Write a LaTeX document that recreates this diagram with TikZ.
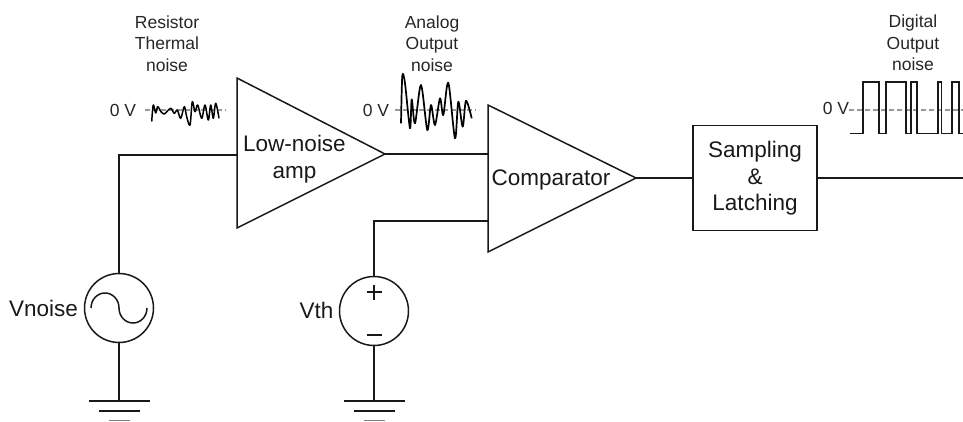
\documentclass[tikz,border=0pt]{standalone}
\usepackage{fontspec}
\setmainfont{Liberation Sans}
\tikzset{
  wire/.style={line width=1.6pt,black!90,line join=miter},
  shapeline/.style={line width=1.5pt,black!90,line join=miter},
  smalltext/.style={font=\fontsize{17.5}{21.5}\selectfont,align=center,inner sep=0pt,text=black!85},
  bigtext/.style={font=\fontsize{22.5}{26.5}\selectfont,align=center,inner sep=0pt,text=black!90},
  zeroline/.style={line width=1.2pt,black!40,dash pattern=on 5pt off 3pt},
  noisewave/.style={line width=1.7pt,black,line join=round},
  source/.style={circle,draw,line width=1.5pt,black!90,minimum size=69pt,inner sep=0pt},
  blockbox/.style={rectangle,draw,line width=1.5pt,black!90,minimum width=124pt,minimum height=105pt,inner sep=0pt},
}
\begin{document}
\begin{tikzpicture}[x=1pt,y=-1pt]
\useasboundingbox (0,0) rectangle (963,421);
% zero reference lines
\coordinate (zaL) at (145,110); \coordinate (zaR) at (226,110);
\coordinate (zbL) at (395,110); \coordinate (zbR) at (476,110);
\coordinate (zcL) at (849,110); \coordinate (zcR) at (963,110);
\draw[zeroline] (zaL) -- (zaR);
\draw[zeroline] (zbL) -- (zbR);
\draw[zeroline] (zcL) -- (zcR);
% noise traces
\draw[noisewave,line width=1.5pt] plot[smooth,tension=0.55] coordinates {
(151.7,121.5)(153.3,105)(155.7,113)(157.7,106.7)(161,111.7)(164.3,114)(167.7,110.7)(171,108.3)(174.3,113.3)(177.3,110)(180.7,118.3)(184.3,106.7)(186.7,116.7)(190,125)(192.3,101.7)(195,111.7)(197.7,105)(201.7,118.3)(205,105)(208.3,120)(210.7,105)(213.3,118.3)(215.7,103.3)(219,118.3)};
\draw[noisewave] plot[smooth,tension=0.5] coordinates {
(401,123.3)(402.3,76)(405,83.3)(410,128.3)(411.7,99.3)(415,123.3)(421,85)(427.3,130)(431,105)(435,125)(440,98.3)(443.3,115)(448.3,82.7)(455,138.3)(458.3,101.7)(462.7,126.7)(466,100.7)(471.7,118.3)};
% digital trace
\coordinate (d0) at (850,133.5);
\draw[wire] (d0) -- (863,133.5) -- (863,81.7) -- (879,81.7) -- (879,133.5) -- (886,133.5) -- (886,81.7) -- (906,81.7) -- (906,133.5) -- (911,133.5) -- (911,81.7) -- (917,81.7) -- (917,133.5) -- (938,133.5) -- (938,81.7) -- (941.5,81.7) -- (941.5,133.5) -- (952,133.5) -- (952,81.7) -- (959,81.7) -- (959,133.5) -- (963,133.5);
% labels above traces
\node[smalltext] (lblres) at (167,43.5) {Resistor\\Thermal\\noise};
\node[smalltext] (lblana) at (432,43.5) {Analog\\Output\\noise};
\node[smalltext] (lbldig) at (913,43) {Digital\\Output\\noise};
\node[smalltext] (z1) at (123,110) {0 V};
\node[smalltext] (z2) at (376,110) {0 V};
\node[smalltext] (z3) at (836,108.5) {0 V};
% amplifier
\coordinate (ampT) at (237,78); \coordinate (ampB) at (237,228); \coordinate (ampO) at (385,154);
\coordinate (ampI) at (237,155);
\draw[shapeline] (ampT) -- (ampO) -- (ampB) -- cycle;
\node[bigtext] (amplabel) at (294.5,159) {Low-noise\\amp};
% comparator
\coordinate (cmpT) at (488,105); \coordinate (cmpB) at (488,252); \coordinate (cmpO) at (636,178);
\coordinate (cmpP) at (488,154); \coordinate (cmpN) at (488,221);
\draw[shapeline] (cmpT) -- (cmpO) -- (cmpB) -- cycle;
\node[bigtext] (cmplabel) at (551,180) {Comparator};
% sampling block
\node[blockbox] (latch) at (755,178) {};
\node[bigtext] (latchlabel) at (755,178.5) {Sampling\\\&\\Latching};
\coordinate (outEnd) at (963,178);
% sources
\node[source] (vn) at (119,308) {};
\node[bigtext,anchor=east] (vnlabel) at (78,308.5) {Vnoise};
\draw[line width=1.5pt,black!90] (vn.center) ++(-28,0) arc[start angle=180,end angle=0,x radius=14pt,y radius=15pt] arc[start angle=180,end angle=360,x radius=14pt,y radius=15pt];
\node[source] (vt) at (374,311) {};
\node[bigtext,anchor=east] (vtlabel) at (333.5,310) {Vth};
\coordinate (plus) at (374,292); \coordinate (minus) at (374,335);
\draw[line width=1.5pt,black!90] ([xshift=-7.5pt]plus) -- ([xshift=7.5pt]plus) ([yshift=-7.5pt]plus) -- ([yshift=7.5pt]plus);
\draw[line width=1.5pt,black!90] ([xshift=-7.5pt]minus) -- ([xshift=7.5pt]minus);
% grounds
\coordinate (g1) at (119,401); \coordinate (g2) at (374,401);
\foreach \g in {g1,g2}{
  \draw[wire] ([xshift=-30.5pt]\g) -- ([xshift=30.5pt]\g);
  \draw[wire] ([xshift=-20.5pt,yshift=-10pt]\g) -- ([xshift=20.5pt,yshift=-10pt]\g);
  \draw[line width=1pt,black!50] ([xshift=-10.5pt,yshift=-19.5pt]\g) -- ([xshift=10.5pt,yshift=-19.5pt]\g);
}
% connectors
\draw[wire] (vn.north) |- (ampI);
\draw[wire] (vn.south) -- (g1);
\draw[wire] (ampO) -- (cmpP);
\draw[wire] (vt.north) |- (cmpN);
\draw[wire] (vt.south) -- (g2);
\draw[wire] (cmpO) -- (latch.west);
\draw[wire] (latch.east) -- (outEnd);
\end{tikzpicture}
\end{document}
